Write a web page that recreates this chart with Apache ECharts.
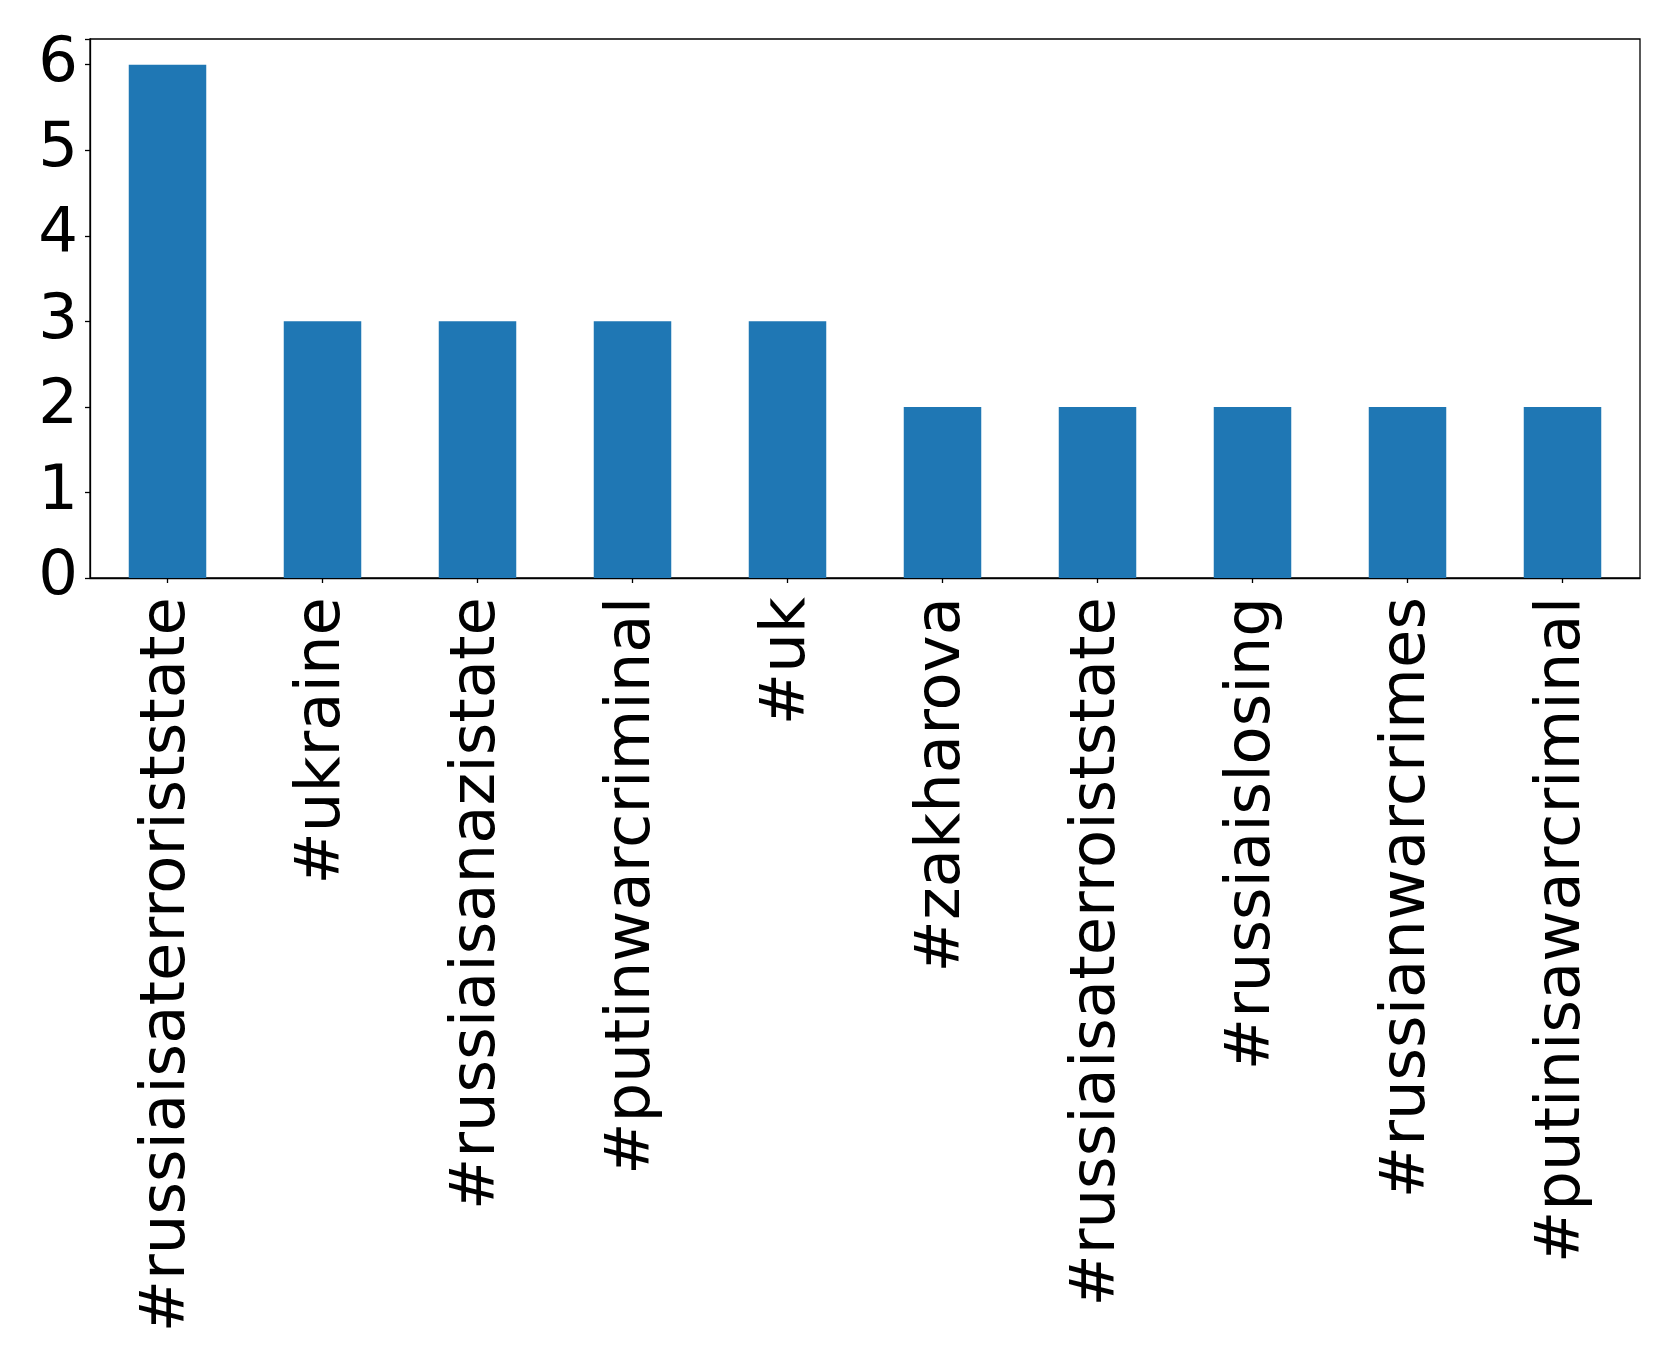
<!DOCTYPE html>
<html>
<head>
<meta charset="utf-8">
<script src="https://cdn.jsdelivr.net/npm/echarts@6/dist/echarts.min.js"></script>
<style>
html,body{margin:0;padding:0;background:#fff;}
#chart{width:1679px;height:1363px;}
</style>
</head>
<body>
<div id="chart"></div>
<script>
const categories = ["#russiaisaterroriststate", "#ukraine", "#russiaisanazistate", "#putinwarcriminal", "#uk", "#zakharova", "#russiaisaterroiststate", "#russiaislosing", "#russianwarcrimes", "#putinisawarcriminal"];
const counts = [6, 3, 3, 3, 3, 2, 2, 2, 2, 2];
const yTicks = [0, 1, 2, 3, 4, 5, 6];

const chart = echarts.init(document.getElementById('chart'), null, {renderer: 'canvas'});
const font = 'DejaVu Sans';
chart.setOption({
  animation: false,
  backgroundColor: '#ffffff',
  grid: {left: 90, top: 39, right: 39, bottom: 785, show: true, borderColor: '#000', borderWidth: 1.3, backgroundColor: 'transparent'},
  xAxis: {
    type: 'category',
    data: categories,
    axisLine: {show: true, lineStyle: {color: '#000', width: 1.3}},
    axisTick: {show: true, alignWithLabel: true, length: 5, lineStyle: {color: '#000', width: 1.3}},
    axisLabel: {rotate: 90, interval: 0, margin: 19, color: '#000', fontFamily: font, fontSize: 62.5}
  },
  yAxis: {
    type: 'value',
    min: 0, max: 6.3, interval: 1,
    axisLine: {show: true, lineStyle: {color: '#000', width: 1.3}},
    axisTick: {show: true, length: 5, lineStyle: {color: '#000', width: 1.3}},
    splitLine: {show: false},
    axisLabel: {margin: 12, color: '#000', fontFamily: font, fontSize: 62.5,
      formatter: function(v){ return yTicks.indexOf(v) >= 0 ? String(v) : ''; }}
  },
  series: [{
    type: 'bar',
    data: counts,
    barWidth: '50%',
    itemStyle: {color: '#1f77b4'}
  }]
});
</script>
</body>
</html>
